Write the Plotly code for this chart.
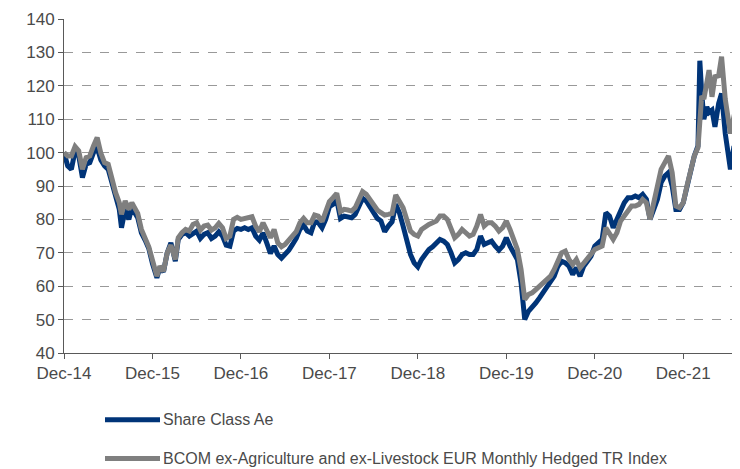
import plotly.graph_objects as go

# Months elapsed since Dec-14 (x positions)
months = [0, 0.5, 1, 1.5, 2, 2.5, 3, 3.5, 4, 4.5, 5, 5.5, 6, 6.5, 7, 7.5, 7.8, 8.3, 8.8, 9.2,
          10, 10.5, 11, 11.5, 12, 12.6, 13, 13.5, 14, 14.5, 15.1, 15.5, 16, 16.5, 17, 17.5, 18, 18.5, 19, 19.5,
          20, 20.5, 21, 21.5, 22, 22.5, 23, 23.5, 24, 24.5, 25, 25.5, 26, 26.5, 27, 27.5, 28, 28.5, 29, 29.5,
          30, 30.5, 31, 31.5, 32, 32.5, 33, 33.5, 34, 34.5, 35, 35.5, 36, 36.5, 37, 37.5, 38, 38.5, 39, 39.5,
          40, 40.5, 41, 41.5, 42, 42.5, 43, 43.5, 44, 44.5, 45, 45.5, 46, 46.5, 47, 47.5, 48, 48.5, 49, 49.5,
          50, 50.5, 51, 51.5, 52, 52.5, 53, 53.5, 54, 54.5, 55, 55.5, 56, 56.5, 57, 57.5, 58, 58.5, 59, 59.5,
          60, 60.5, 61, 61.5, 62, 62.5, 63, 63.5, 64, 64.5, 65, 65.5, 66, 66.5, 67, 67.5, 68, 68.5, 69, 69.5,
          70, 70.5, 71, 71.5, 72, 72.5, 73, 73.5, 74, 74.5, 75, 75.5, 76, 76.5, 77, 77.5, 78, 78.5, 79, 79.5,
          80, 80.5, 81, 81.5, 82, 82.5, 83, 83.5, 84, 84.5, 85, 85.5, 86, 86.25, 86.5, 86.8, 87.2, 87.5, 87.9,
          88.3, 88.8, 89.2, 89.7, 90, 90.4, 90.8, 91.2]

share_class_ae = [100, 96, 95, 100.5, 99, 92.5, 96.5, 97, 100, 101.5, 97.8, 96, 95, 90.5, 86, 83, 77.5, 83, 80, 83.5,
                  80.5, 76, 73.8, 71.3, 66.8, 62.5, 65.5, 64.3, 70, 73, 67.5, 74, 75.5, 76, 75, 76, 76.5, 74.3, 75.5, 76,
                  74.3, 75, 76.3, 75, 72.3, 72, 76.5, 77.3, 77, 77.5, 77, 77.5, 75, 73.8, 76, 73, 69.8, 72, 69.5, 68.4,
                  69.5, 70.8, 72.5, 74.3, 77, 78.3, 76.5, 76, 79.3, 79, 77.5, 80, 83.8, 84.5, 85.8, 80.3, 81, 80.8, 80.5, 81.5,
                  84.3, 86.3, 85.5, 83.8, 82, 80.3, 79.5, 76.3, 78, 79.3, 84.5, 82, 78, 73, 69.5, 67, 65.8, 68, 69.5, 71,
                  71.8, 73, 74, 73.5, 72.5, 70, 67, 68, 69.5, 70, 69.5, 69.5, 71, 75, 72.5, 73, 73.5, 72, 70.8, 72,
                  74.5, 72, 70, 68, 61, 50, 52.5, 53.5, 55, 56.5, 58, 59.5, 61, 63, 66, 67.5, 67, 66, 63.5, 65.5,
                  63, 66, 67.5, 69, 72, 73, 74, 82, 81, 77.5, 80, 82, 85, 86.5, 86.5, 87, 86.5, 87.5, 86, 80,
                  83, 86, 91, 93, 94, 90, 83, 83, 85, 90, 95, 99, 102, 127.5, 118, 110, 113.7, 112, 112.7,
                  107.7, 114.7, 117.7, 105.7, 102, 95, 100.7, 100]

bcom_index = [100, 99, 99, 101.8, 100.5, 95, 98.5, 99, 102, 104.5, 99.8, 97, 96.5, 91.5, 88, 85, 81.5, 85.5, 83, 85,
              81.8, 77, 74.8, 71.8, 67.8, 63, 66, 64.5, 70, 72.3, 68, 74.5, 76, 77, 76.5, 78.5, 79, 76.8, 78, 78.3,
              76.8, 77.5, 78.8, 77.5, 74.3, 75, 80, 80.6, 80, 80.3, 80.5, 80.8, 78, 76.3, 79, 77, 74.5, 77, 73, 71.8,
              72.5, 73.8, 75, 76.3, 79, 80.3, 79, 79, 81.3, 81, 79.3, 82, 85.3, 86.5, 87.8, 82.3, 83, 82.8, 82.5, 83.5,
              86.3, 88.3, 87.5, 85.8, 84, 82.8, 82, 81.3, 81.5, 81.8, 87.3, 85, 83.5, 80, 76.5, 75.5, 75, 77, 78, 78.5,
              79, 79.5, 81, 81, 80, 77.5, 74.5, 75.5, 77, 76, 75, 75.5, 78, 81.5, 78, 79, 79, 78, 76.5, 77.5,
              79.5, 77, 74, 71, 65, 56, 57.5, 58, 59, 60, 61, 62, 63, 65, 68, 70, 70.5, 68, 66.5, 68,
              65.5, 67, 68.5, 69.5, 71, 71.5, 72, 77.5, 76, 74, 76, 79.5, 81, 82.5, 84, 84, 84.5, 86, 85, 80,
              85, 89, 95, 97, 99, 94, 84, 83.5, 85, 90, 95, 99, 101.5, 112, 117, 116, 121, 124.7, 116.7,
              122.7, 123, 128.7, 116, 112, 105.7, 110, 114]

tick_labels = ["Dec-14", "Dec-15", "Dec-16", "Dec-17", "Dec-18", "Dec-19", "Dec-20", "Dec-21"]
tick_months = [12 * i for i in range(len(tick_labels))]

series_names = ["Share Class Ae", "BCOM ex-Agriculture and ex-Livestock EUR Monthly Hedged TR Index"]
series_colors = ["#003478", "#7f7f7f"]

FONT = "Liberation Sans"
TXT = "#4a4a4a"
AX = "#595959"

# The page body has an 8px margin, so the figure is sized/offset to compensate
OFF = 8
W, H = 740 - OFF, 469 - OFF
ML, MR, MT = 64 - OFF, 0, 19 - OFF
MB = H - (353.3 - OFF)
PW, PH = W - ML - MR, H - MT - MB


def page_to_paper(px, py):
    fx, fy = px - OFF, py - OFF
    return (fx - ML) / PW, (H - MB - fy) / PH


fig = go.Figure()
for name, vals, col in zip(series_names, [share_class_ae, bcom_index], series_colors):
    fig.add_trace(go.Scatter(
        x=months, y=vals, mode="lines", name=name,
        line=dict(color=col, width=5), showlegend=False,
    ))

# Legend drawn below the plot (line sample + real text)
legend_rows_y = [420, 459]
for name, col, ly in zip(series_names, series_colors, legend_rows_y):
    x0, y0 = page_to_paper(105, ly)
    x1, _ = page_to_paper(160, ly)
    xt, _ = page_to_paper(161, ly)
    fig.add_shape(type="line", xref="paper", yref="paper", x0=x0, x1=x1, y0=y0, y1=y0,
                  line=dict(color=col, width=5))
    fig.add_annotation(xref="paper", yref="paper", x=xt, y=y0, xanchor="left", yanchor="middle",
                       text=name, showarrow=False, font=dict(family=FONT, size=16, color=TXT))

fig.update_layout(
    width=W, height=H,
    margin=dict(l=ML, r=MR, t=MT, b=MB, pad=0),
    paper_bgcolor="white", plot_bgcolor="white",
    font=dict(family=FONT, size=16, color=TXT),
    showlegend=False,
    xaxis=dict(
        range=[0, 91.7], tickmode="array", tickvals=tick_months, ticktext=tick_labels,
        showgrid=False, zeroline=False, showline=True, linecolor=AX, linewidth=1,
        ticks="outside", ticklen=5, tickcolor=AX, tickfont=dict(size=17, color=TXT),
        automargin=False,
    ),
    yaxis=dict(
        range=[40, 140], dtick=10, tick0=40,
        showgrid=True, gridcolor="#999999", griddash="dash", gridwidth=1,
        zeroline=False, showline=True, linecolor=AX, linewidth=1,
        ticks="outside", ticklen=5, tickcolor=AX, tickfont=dict(size=17, color=TXT),
        automargin=False,
    ),
)

fig.write_html("out.html")
